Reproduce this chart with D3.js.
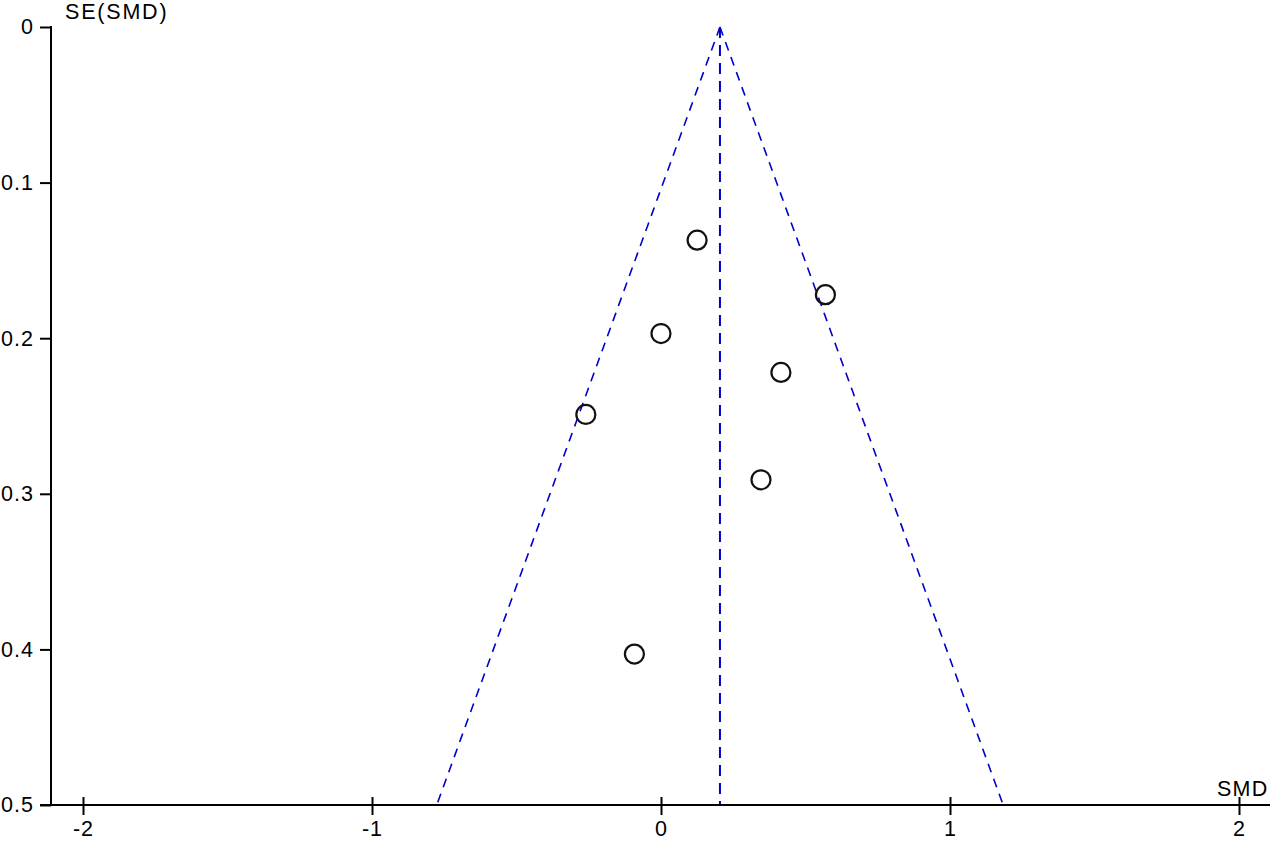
<!DOCTYPE html>
<html>
<head>
<meta charset="utf-8">
<script src="https://cdn.jsdelivr.net/npm/d3@7"></script>
<style>
  html, body { margin: 0; padding: 0; background: #fff; }
  svg { display: block; }
  text { font-family: "Liberation Sans", Arial, sans-serif; fill: #000; }
</style>
</head>
<body>
<svg id="chart" width="1276" height="841"></svg>
<script>
// ---- data ----
const smd = [0.125, 0.569, 0.0, 0.415, -0.26, 0.346, -0.092];
const seSmd = [0.137, 0.172, 0.197, 0.222, 0.249, 0.291, 0.403];
const pooled = 0.204;
const xTicks = [-2, -1, 0, 1, 2];
const yTicks = [0, 0.1, 0.2, 0.3, 0.4, 0.5];
const xTitle = "SMD";
const yTitle = "SE(SMD)";

// ---- layout ----
const svg = d3.select("#chart");
const x = d3.scaleLinear().domain([-2, 2]).range([83, 1239]);
const y = d3.scaleLinear().domain([0, 0.5]).range([27, 805]);
const axisX = 51;   // position of vertical axis
const fontSize = 21.5;
const fontFam = "'Liberation Sans', Arial, sans-serif";

// funnel lines
const seMax = 0.5;
const blue = "#0000cc";
svg.append("line")
  .attr("x1", x(pooled)).attr("y1", y(0))
  .attr("x2", x(pooled - 1.96 * seMax)).attr("y2", y(seMax))
  .attr("stroke", blue).attr("stroke-width", 1.6)
  .attr("stroke-dasharray", "9,7");
svg.append("line")
  .attr("x1", x(pooled)).attr("y1", y(0))
  .attr("x2", x(pooled + 1.96 * seMax)).attr("y2", y(seMax))
  .attr("stroke", blue).attr("stroke-width", 1.6)
  .attr("stroke-dasharray", "9,7");
svg.append("line")
  .attr("x1", x(pooled)).attr("y1", y(0))
  .attr("x2", x(pooled)).attr("y2", y(seMax))
  .attr("stroke", blue).attr("stroke-width", 2)
  .attr("stroke-dasharray", "11,7");

// y axis
const yAxis = d3.axisLeft(y).tickValues(yTicks).tickSize(11).tickPadding(6)
  .tickFormat(d => d === 0 ? "0" : d3.format(".1f")(d));
const gy = svg.append("g").attr("transform", `translate(${axisX},0)`).call(yAxis);
gy.select(".domain").remove();
gy.selectAll(".tick line").attr("stroke", "#000").attr("stroke-width", 2);
gy.selectAll(".tick text").attr("font-size", fontSize).attr("letter-spacing", 1)
  .attr("font-family", fontFam).attr("fill", "#000");
svg.append("line")
  .attr("x1", axisX).attr("x2", axisX)
  .attr("y1", y(0) - 1).attr("y2", y(0.5))
  .attr("stroke", "#000").attr("stroke-width", 2);

// x axis
const xAxis = d3.axisBottom(x).tickValues(xTicks).tickSize(10).tickPadding(6)
  .tickFormat(d => String(d));
const gx = svg.append("g").attr("transform", `translate(0,${y(0.5)})`).call(xAxis);
gx.select(".domain").remove();
gx.selectAll(".tick line").attr("stroke", "#000").attr("stroke-width", 2).attr("y1", -8);
gx.selectAll(".tick text").attr("font-size", fontSize).attr("letter-spacing", 1)
  .attr("font-family", fontFam).attr("fill", "#000");
svg.append("line")
  .attr("x1", axisX - 11).attr("x2", 1270)
  .attr("y1", y(0.5)).attr("y2", y(0.5))
  .attr("stroke", "#000").attr("stroke-width", 2);

// axis titles
svg.append("text").attr("x", 65).attr("y", 19)
  .attr("font-size", fontSize).attr("letter-spacing", 1.8).text(yTitle);
svg.append("text").attr("x", 1217).attr("y", 796)
  .attr("font-size", fontSize).attr("letter-spacing", 1.2).text(xTitle);

// study points
svg.append("g").selectAll("circle")
  .data(smd.map((v, i) => ({ v, se: seSmd[i] })))
  .join("circle")
  .attr("cx", d => x(d.v)).attr("cy", d => y(d.se))
  .attr("r", 9.5)
  .attr("fill", "none").attr("stroke", "#111").attr("stroke-width", 2.2);
</script>
</body>
</html>
